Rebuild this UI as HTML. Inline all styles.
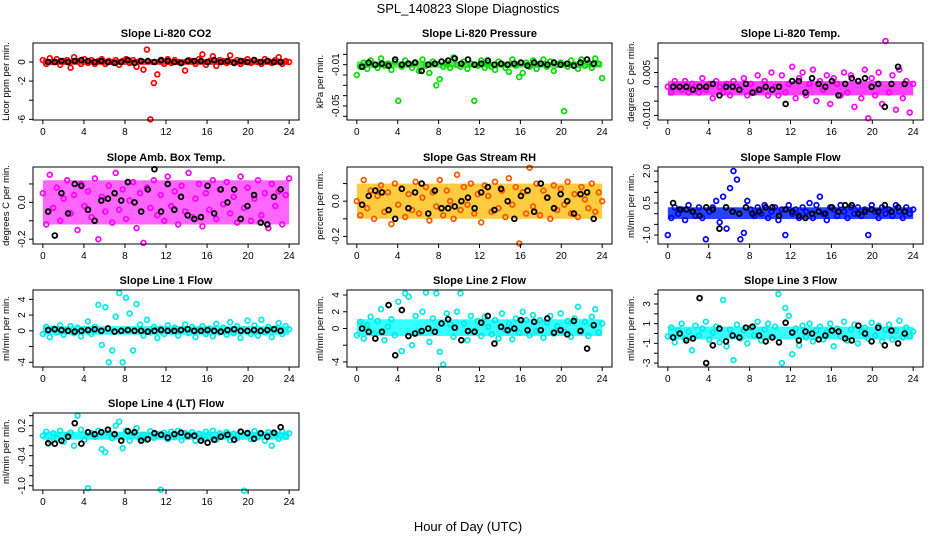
<!DOCTYPE html>
<html><head><meta charset="utf-8"><style>
html,body{margin:0;padding:0;background:#fff;}
svg{display:block;font-family:"Liberation Sans",Arial,sans-serif;}
</style></head><body>
<svg id="chart" width="936" height="540" viewBox="0 0 936 540" xmlns="http://www.w3.org/2000/svg">
<text x="468" y="13" text-anchor="middle" font-size="13">SPL_140823  Slope Diagnostics</text>
<text x="468" y="531" text-anchor="middle" font-size="13">Hour of Day (UTC)</text>
</svg>
<script>
const xTicks = [0,4,8,12,16,20,24];
const xTickLabels = ["0","4","8","12","16","20","24"];

const co2Vals = [0.2,-0.2,0.4,0,0.3,-0.3,0.1,0.2,-0.6,0.5,0.1,-0.2,0.3,-0.1,0.2,-0.2,0.1,0.3,-0.2,0.1,0,0.2,-0.3,0.1,0.3,-0.1,0.2,-0.5,0.1,-0.8,1.3,-6,-2.2,-1.3,0.1,-0.2,0.3,-0.1,0.2,0,-0.1,-0.9,0.2,0.1,-0.2,0.3,0.8,-0.3,0.1,0.6,-0.4,0.2,0.1,-0.1,0.7,0,0.2,-0.2,0.1,0.3,-0.1,0.2,0,-0.2,0.3,0.1,-0.1,0.2,0.5,-0.2,0.1,0];
const co2Black = [0,0,0.1,0,0.1,0.2,0.1,0,0.1,0,-0.1,0,0.2,-0.1,0.1,0.1,0,0.2,0.1,0,-0.1,0.1,0.1,0.1,0,0.2,0,0.1,-0.1,0.1,0,0.2,0,0.1,0,0];
const presVals = [-0.02,-0.012,-0.008,-0.014,-0.006,-0.01,-0.013,-0.004,-0.011,-0.009,-0.015,-0.007,-0.045,-0.012,-0.006,-0.01,-0.013,-0.008,-0.016,-0.005,-0.011,-0.018,-0.007,-0.03,-0.024,-0.012,-0.008,-0.013,-0.003,-0.01,-0.012,-0.007,-0.014,-0.009,-0.045,-0.011,-0.006,-0.013,-0.008,-0.012,-0.015,-0.007,-0.01,-0.013,-0.017,-0.005,-0.011,-0.022,-0.018,-0.008,-0.012,-0.006,-0.014,-0.009,-0.005,-0.012,-0.007,-0.016,-0.01,-0.008,-0.055,-0.012,-0.006,-0.01,-0.014,-0.005,-0.011,-0.008,-0.013,-0.004,-0.009,-0.023];
const presBlack = [-0.012,-0.008,-0.01,-0.009,-0.011,-0.005,-0.01,-0.009,-0.008,-0.016,-0.01,-0.009,-0.007,-0.006,-0.004,-0.009,-0.005,-0.01,-0.009,-0.006,-0.01,-0.009,-0.01,-0.009,-0.008,-0.011,-0.008,-0.009,-0.01,-0.008,-0.01,-0.009,-0.011,-0.008,-0.005,-0.009];
const tempVals = [0,-0.002,0.002,0,-0.001,0.002,-0.002,0.001,0,-0.002,0.003,-0.001,0.001,-0.004,0.002,0,-0.002,0.001,-0.003,0.002,0,-0.001,0.003,-0.003,0.001,-0.002,0.004,-0.001,0.002,-0.003,0.005,0,-0.003,0.004,-0.002,0.001,0.007,-0.004,0.003,0.005,-0.003,0.001,0.006,-0.005,0.002,-0.001,0.004,-0.006,0.003,0.001,-0.003,0.005,-0.002,0.004,-0.007,0.002,-0.004,0.006,-0.011,0.003,-0.003,0.005,-0.006,0.016,-0.002,0.004,-0.008,0.006,-0.004,0.002,-0.009,0.001];
const tempBlack = [0,0,0,-0.001,0,0,0.001,-0.003,0,0,-0.001,0.001,-0.002,-0.001,0,-0.001,0,-0.006,0.002,0.002,-0.002,0.003,0.001,0,0.002,-0.003,0.001,0.003,0.002,0.003,0,0.001,-0.007,0.001,0.007,0.001];
const ambVals = [0.05,-0.12,0.15,-0.03,0.08,-0.1,0.02,0.12,-0.06,0.04,-0.15,0.1,-0.02,0.06,-0.08,0.13,-0.2,0.03,-0.05,0.09,-0.11,0.16,-0.04,0.07,-0.09,0.01,0.11,-0.14,0.05,-0.22,0.08,-0.03,0.12,-0.07,0.04,-0.1,0.14,-0.02,0.06,-0.12,0.09,-0.05,0.16,-0.08,0.02,0.1,-0.13,0.05,-0.04,0.12,-0.09,0.07,-0.01,0.11,-0.06,0.03,-0.11,0.14,-0.03,0.08,-0.1,0.02,0.12,-0.07,0.05,-0.14,0.1,-0.02,0.06,-0.12,0.04,0.13];
const ambBlack = [-0.05,-0.18,0.05,-0.06,0.1,0.09,-0.04,-0.1,0.01,0.02,0.05,0.01,0.11,0.0,-0.05,0.07,0.18,-0.05,0.1,-0.04,0.03,-0.07,-0.09,-0.08,0.09,-0.06,0.07,0.0,0.07,-0.09,-0.02,0.04,-0.11,-0.12,0.03,0.07];
const rhVals = [0.0,-0.08,0.12,-0.04,0.06,-0.1,0.03,0.09,-0.06,0.05,-0.13,0.1,-0.02,0.07,-0.09,0.04,-0.05,0.11,-0.07,0.02,0.08,-0.11,0.05,-0.03,0.12,-0.08,0.06,0.0,-0.1,0.15,-0.05,0.08,-0.02,0.1,-0.07,0.04,-0.12,0.09,0.03,-0.06,0.11,-0.04,0.06,-0.09,0.13,-0.02,0.08,-0.24,0.05,-0.07,0.19,-0.03,0.1,-0.08,0.06,0.02,-0.1,0.09,-0.05,0.07,-0.02,0.11,-0.07,0.04,-0.09,0.08,0.01,-0.04,0.1,-0.06,0.05,0.0];
const rhBlack = [-0.02,0.03,0.06,0.05,-0.05,-0.1,0.07,-0.04,0.05,0.1,-0.07,0.06,-0.04,-0.04,-0.03,0.0,0.02,-0.04,0.05,0.08,-0.05,0.07,0.0,-0.1,0.03,0.06,-0.06,0.1,0.02,-0.04,0.04,0.0,-0.07,0.04,0.05,-0.1];
const flowVals = [-1.0,-0.2,0.3,0.0,0.2,-0.3,0.4,0.1,-0.1,0.3,-0.2,-1.2,0.1,0.3,0.6,-0.4,0.8,-0.7,1.2,2.0,1.6,-1.2,-0.9,0.6,0.2,-0.1,0.3,0.0,0.4,-0.2,0.1,0.3,-0.3,0.2,-1.0,0.4,0.0,0.2,-0.2,0.3,0.1,0.5,-0.2,0.4,0.8,0.0,-0.3,0.3,0.2,-0.1,0.4,0.1,-0.2,0.3,0.0,0.3,-0.1,0.2,-1.0,0.4,0.1,-0.2,0.3,0.0,0.2,-0.1,0.4,0.1,-0.2,0.3,0.0,0.2];
const flowBlack = [0.5,0.2,0.2,0.1,-0.1,0.3,0.2,-0.7,0.3,0.1,0.0,0.3,0.0,0.1,0.3,0.3,-0.1,0.2,0.1,-0.1,-0.2,0.0,0.1,0.0,0.3,0.1,0.4,0.4,0.0,0.1,0.2,0.1,0.4,0.1,0.3,0.1];
const l1Vals = [-0.4,0.5,-0.8,0.3,-0.2,0.7,-0.5,0.1,0.6,-0.3,0.4,-0.7,0.2,1.2,-0.4,0.5,3.3,-1.8,3.0,-4.0,-2.5,1.8,4.8,-4.0,4.2,2.2,-2.5,3.4,0.8,-0.6,1.4,-0.2,0.5,-0.9,0.3,-0.4,0.7,-0.1,0.4,-0.6,0.2,0.8,-0.3,0.5,-0.8,0.1,0.6,-0.4,0.3,-0.7,0.9,-0.2,0.4,-0.5,1.1,-0.3,0.6,-0.9,0.2,1.3,-0.4,0.7,-0.6,1.4,-0.2,0.5,-0.8,0.3,1.0,-0.4,0.6,0.2];
const l1Black = [0.1,0.2,0.1,0.0,-0.1,0.0,0.1,0.2,0.0,0.3,-0.1,0.0,0.1,0.0,0.0,-0.1,0.0,0.1,0.0,0.0,0.1,0.2,0.0,0.0,0.1,0.0,-0.1,0.1,0.2,0.0,0.0,0.1,0.0,0.1,0.2,0.0];
const l2Vals = [-0.8,0.8,-1.2,0.4,1.4,-0.6,0.9,2.3,-1.4,0.2,1.1,-0.8,3.2,-2.7,4.2,3.8,-2.0,1.5,-0.4,2.0,4.3,-1.6,1.2,4.2,-2.8,-4.3,1.8,0.5,-1.0,2.0,4.2,0.6,-1.4,1.5,-0.3,0.9,-0.9,1.4,0.2,-0.7,1.0,-1.2,1.8,-0.2,0.6,-1.3,1.2,-0.5,2.0,1.0,-0.8,1.6,-0.3,1.0,-1.1,0.7,1.5,-0.6,0.3,1.8,-0.4,0.9,-1.0,1.2,2.6,-0.2,0.8,-0.9,1.4,2.3,-0.5,0.6];
const l2Black = [0.0,-0.4,-1.2,-0.4,2.8,-3.2,2.2,-0.9,-0.6,-0.3,0.0,-0.4,0.6,1.1,0.1,-1.4,-0.3,-0.4,0.7,1.5,-1.8,0.2,-0.2,0.0,1.0,-0.2,0.8,-0.2,1.2,-0.5,-0.2,-0.7,0.9,-0.3,-2.4,0.4];
const l3Vals = [-0.3,0.6,-0.9,0.3,1.0,-0.5,0.2,-1.7,0.8,-0.2,0.5,1.2,-0.6,0.1,0.7,-0.9,3.4,-1.3,0.4,-2.7,0.9,-0.5,0.3,-1.0,0.6,-0.2,1.2,-0.7,0.4,1.0,-0.3,0.7,4.0,-3.0,2.6,1.8,-2.1,0.5,-1.2,0.8,-0.4,1.0,-0.8,0.3,0.7,-0.6,0.2,1.0,-1.3,0.5,-0.3,1.2,-0.7,0.4,0.9,-1.0,0.2,0.6,-0.5,1.1,-0.2,0.8,-0.8,0.4,0.9,-0.6,0.3,1.3,-0.4,0.6,-0.3,0.2];
const l3Black = [-0.4,0.0,-0.7,-0.5,3.6,-3.0,-1.2,0.5,-0.8,-0.2,-0.4,0.6,0.7,-0.2,-0.8,-0.4,-0.9,1.1,0.1,-0.7,0.2,0.0,-0.6,-0.2,0.3,0.2,-0.5,-0.7,0.8,0.0,-0.8,0.6,-1.2,0.3,-1.0,0.0];
const l4Vals = [0.0,0.08,-0.1,0.05,-0.05,0.1,-0.12,0.02,0.06,-0.2,0.4,0.12,-0.08,-1.05,0.05,-0.02,0.1,-0.27,-0.33,0.06,-0.05,0.2,0.28,-0.25,0.1,-0.1,0.04,0.15,-0.06,0.02,-0.08,0.09,-0.04,0.03,-1.08,0.06,-0.07,0.08,-0.03,0.1,-0.09,0.05,-0.02,0.07,-0.1,0.04,-0.06,0.08,-0.03,0.1,-0.08,0.05,-0.01,0.07,-0.09,0.04,-0.05,0.08,-1.1,0.06,-0.07,0.09,-0.03,0.05,-0.1,0.07,-0.2,0.04,-0.06,0.08,-0.02,0.05];
const l4Black = [-0.15,-0.16,-0.1,-0.02,0.25,-0.16,0.07,0.03,0.07,0.12,0.03,-0.1,0.09,0.07,-0.1,-0.07,0.05,0.02,-0.04,0.03,0.06,0.0,0.0,-0.1,-0.14,-0.08,-0.02,0.02,-0.08,0.08,0.05,-0.06,0.05,-0.02,0.06,0.17];

const bandCO2=[-0.3,0.3], bandPres=[-0.013,-0.007], bandTemp=[-0.003,0.002], bandAmb=[-0.12,0.12], bandRH=[-0.1,0.1], bandFlow=[-0.25,0.3], bandL1=[-0.5,0.6], bandL2=[-0.9,1.1], bandL3=[-0.6,0.7], bandL4=[-0.08,0.08];

const panels = [
 {name:"co2",title:"Slope Li-820 CO2",yl:"Licor ppm per min.",box:[33,43,299,120],ylim:[-6.07,1.99],ticks:[0,-2,-4,-6],labels:["0","-2","","-6"],col:"#ff0000",bcol:"#ff0000",bop:0.8,vals:co2Vals,blk:co2Black,band:bandCO2},
 {name:"pressure",title:"Slope Li-820 Pressure",yl:"kPa per min.",box:[347,43,612,120],ylim:[-0.0636,0.011],ticks:[0,-0.01,-0.02,-0.03,-0.04,-0.05,-0.06],labels:["","-0.01","","","","-0.05",""],col:"#00dd00",bcol:"#22dd22",bop:0.75,vals:presVals,blk:presBlack,band:bandPres},
 {name:"temp",title:"Slope Li-820 Temp.",yl:"degrees C per min.",box:[658,43,923,120],ylim:[-0.0116,0.0153],ticks:[0.01,0.005,0,-0.005,-0.01],labels:["","0.005","","","-0.010"],col:"#ff00ff",bcol:"#ff00ff",bop:0.75,vals:tempVals,blk:tempBlack,band:bandTemp},
 {name:"amb-box-temp",title:"Slope Amb. Box Temp.",yl:"degrees C per min.",box:[33,167,299,244],ylim:[-0.226,0.192],ticks:[0.1,0,-0.1,-0.2],labels:["","0.0","","-0.2"],col:"#ff00ff",bcol:"#ff00ff",bop:0.6,vals:ambVals,blk:ambBlack,band:bandAmb},
 {name:"gas-rh",title:"Slope Gas Stream RH",yl:"percent per min.",box:[347,167,612,244],ylim:[-0.243,0.194],ticks:[0.1,0,-0.1,-0.2],labels:["","0.0","","-0.2"],col:"#ff5500",bcol:"#ffbb00",bop:0.75,vals:rhVals,blk:rhBlack,band:bandRH},
 {name:"sample-flow",title:"Slope Sample Flow",yl:"ml/min per min.",box:[658,167,923,244],ylim:[-1.42,2.19],ticks:[2,1.5,1,0.5,0,-0.5,-1],labels:["2.0","","","0.5","","","-1.0"],col:"#0000ff",bcol:"#0022ff",bop:0.85,vals:flowVals,blk:flowBlack,band:bandFlow},
 {name:"line1-flow",title:"Slope Line 1 Flow",yl:"ml/min per min.",box:[33,290,299,367],ylim:[-4.6,5.19],ticks:[4,2,0,-2,-4],labels:["4","2","0","","-4"],col:"#00e8e8",bcol:"#00ffff",bop:0.8,vals:l1Vals,blk:l1Black,band:bandL1},
 {name:"line2-flow",title:"Slope Line 2 Flow",yl:"ml/min per min.",box:[347,290,612,367],ylim:[-4.6,4.6],ticks:[4,2,0,-2,-4],labels:["4","2","0","","-4"],col:"#00e8e8",bcol:"#00ffff",bop:0.8,vals:l2Vals,blk:l2Black,band:bandL2},
 {name:"line3-flow",title:"Slope Line 3 Flow",yl:"ml/min per min.",box:[658,290,923,367],ylim:[-3.4,4.42],ticks:[4,3,2,1,0,-1,-2,-3],labels:["","3","","1","","-1","","-3"],col:"#00e8e8",bcol:"#00ffff",bop:0.8,vals:l3Vals,blk:l3Black,band:bandL3},
 {name:"line4-flow",title:"Slope Line 4 (LT) Flow",yl:"ml/min per min.",box:[33,413,299,490],ylim:[-1.086,0.454],ticks:[0.4,0.2,0,-0.2,-0.4,-0.6,-0.8,-1.0],labels:["","0.2","","","-0.4","","","-1.0"],col:"#00e8e8",bcol:"#00ffff",bop:0.85,vals:l4Vals,blk:l4Black,band:bandL4}
];

const NS="http://www.w3.org/2000/svg";
const svg=document.getElementById("chart");
function mk(tag,attrs,parent,text){const e=document.createElementNS(NS,tag);for(const k in attrs)e.setAttribute(k,attrs[k]);if(text!==undefined)e.textContent=text;parent.appendChild(e);return e;}

panels.forEach(p=>{
  const [x0,y0,x1,y1]=p.box;
  const g=mk("g",{},svg);
  
  
  const xs=h=>x0+(h+0.96)/25.92*(x1-x0);
  const ys=v=>y1-(v-p.ylim[0])/(p.ylim[1]-p.ylim[0])*(y1-y0);
  const t=mk("text",{x:(x0+x1)/2,y:y0-6,"text-anchor":"middle","font-size":"11","font-weight":"bold"},g,p.title);
  
  
  const band=mk("rect",{x:xs(0),y:ys(p.band[1]),width:xs(24)-xs(0),height:ys(p.band[0])-ys(p.band[1]),fill:p.bcol,opacity:p.bop},g);
  
  
  const n=p.vals.length;
  p.vals.forEach((v,i)=>{
    const c=mk("circle",{cx:xs(i*24/(n-1)),cy:ys(v),r:"2.4",fill:"none",stroke:p.col,"stroke-width":"1.7"},g);
    
    
  });
  const m=p.blk.length;
  p.blk.forEach((v,i)=>{
    const c=mk("circle",{cx:xs((i+0.8)*23.3/m),cy:ys(v),r:"2.4",fill:"none",stroke:"#000","stroke-width":"1.8"},g);
    
    
  });
  const b=mk("rect",{x:x0,y:y0,width:x1-x0,height:y1-y0,fill:"none",stroke:"#000","stroke-width":"1"},g);
  
  
  xTicks.forEach((h,i)=>{
    mk("line",{x1:xs(h),x2:xs(h),y1:y1,y2:y1+4,stroke:"#000"},g);
    const l=mk("text",{x:xs(h),y:y1+15,"text-anchor":"middle","font-size":"10"},g,xTickLabels[i]);
    
    
  });
  p.ticks.forEach((v,i)=>{
    const yy=ys(v);
    mk("line",{x1:x0-4,x2:x0,y1:yy,y2:yy,stroke:"#000"},g);
    if(p.labels[i]){
      const l=mk("text",{x:x0-8,y:yy,"text-anchor":"middle","font-size":"10",transform:`rotate(-90 ${x0-8} ${yy})`},g,p.labels[i]);
      
      
    }
  });
  const cy=(y0+y1)/2;
  const yl=mk("text",{x:x0-24,y:cy,"text-anchor":"middle","font-size":"9.5",transform:`rotate(-90 ${x0-24} ${cy})`},g,p.yl);
  
  
});
</script>
</body></html>
